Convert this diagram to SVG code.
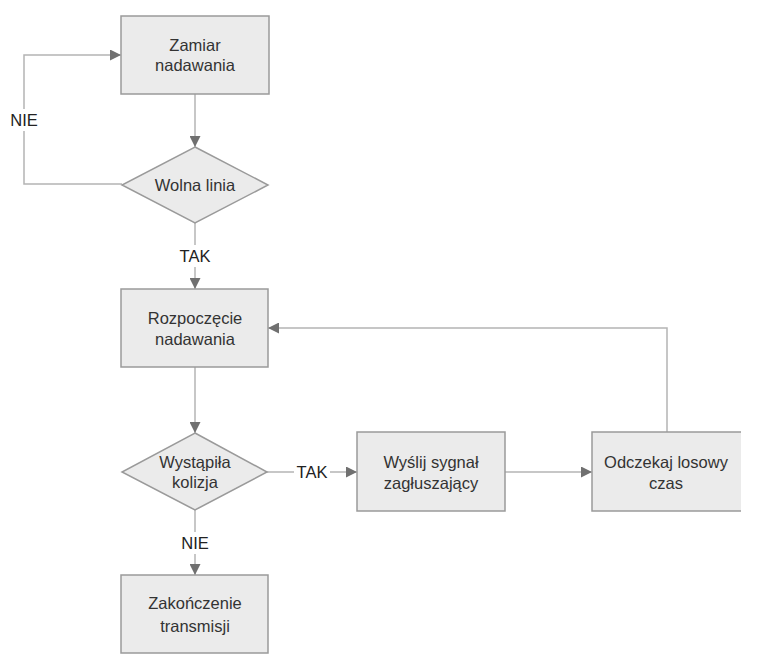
<svg xmlns="http://www.w3.org/2000/svg" width="760" height="668" viewBox="0 0 760 668">
<defs>
<style>
.box{fill:#ebebeb;stroke:#9a9a9a;stroke-width:1.5}
.edge{fill:none;stroke:#b4b4b4;stroke-width:1.5}
.t{font-family:"Liberation Sans",Arial,sans-serif;font-size:16.5px;fill:#333;text-anchor:middle}
.lbl{font-family:"Liberation Sans",Arial,sans-serif;font-size:16.5px;fill:#222;text-anchor:middle}
</style>
<marker id="arr" viewBox="0 0 10 10" refX="10" refY="5" markerWidth="11" markerHeight="11" markerUnits="userSpaceOnUse" orient="auto">
<path d="M0,0 L10,5 L0,10 z" fill="#707070"/>
</marker>
</defs>
<rect width="760" height="668" fill="#fff"/>
<g id="connectors">
<path class="edge" d="M195,94 V147" marker-end="url(#arr)"/>
<path class="edge" d="M122,184 H24 V55 H121" marker-end="url(#arr)"/>
<path class="edge" d="M195,223 V289" marker-end="url(#arr)"/>
<path class="edge" d="M195,367 V433" marker-end="url(#arr)"/>
<path class="edge" d="M267,472 H357" marker-end="url(#arr)"/>
<path class="edge" d="M505,472 H592" marker-end="url(#arr)"/>
<path class="edge" d="M667,432 V328 H268" marker-end="url(#arr)"/>
<path class="edge" d="M195,510 V575" marker-end="url(#arr)"/>
<rect x="8" y="109" width="32" height="22" fill="#fff"/>
<text class="lbl" x="24" y="126">NIE</text>
<rect x="178" y="245" width="34" height="22" fill="#fff"/>
<text class="lbl" x="195" y="262">TAK</text>
<rect x="294" y="461" width="36" height="22" fill="#fff"/>
<text class="lbl" x="312" y="478">TAK</text>
<rect x="180" y="532" width="30" height="22" fill="#fff"/>
<text class="lbl" x="195" y="549">NIE</text>
</g>
<g id="n1">
<rect class="box" x="121" y="16" width="148" height="78"/>
<text class="t" x="195" y="51">Zamiar</text>
<text class="t" x="195" y="71">nadawania</text>
</g>
<g id="n2">
<polygon class="box" points="195,147 268,185 195,223 122,185"/>
<text class="t" x="195" y="191">Wolna linia</text>
</g>
<g id="n3">
<rect class="box" x="121" y="289" width="147" height="78"/>
<text class="t" x="195" y="324">Rozpoczęcie</text>
<text class="t" x="195" y="345">nadawania</text>
</g>
<g id="n4">
<polygon class="box" points="195,433 267,472 195,510 122,472"/>
<text class="t" x="195" y="468">Wystąpiła</text>
<text class="t" x="195" y="488">kolizja</text>
</g>
<g id="n5">
<rect class="box" x="357" y="432" width="148" height="79"/>
<text class="t" x="431" y="468">Wyślij sygnał</text>
<text class="t" x="431" y="489">zagłuszający</text>
</g>
<g id="n6">
<rect x="592" y="432" width="149" height="79" fill="#ebebeb"/>
<path d="M741,432 H592 V511 H741" fill="none" stroke="#9a9a9a" stroke-width="1.5"/>
<text class="t" x="666" y="468">Odczekaj losowy</text>
<text class="t" x="666" y="489">czas</text>
</g>
<g id="n7">
<rect class="box" x="121" y="575" width="147" height="78"/>
<text class="t" x="195" y="609">Zakończenie</text>
<text class="t" x="195" y="632">transmisji</text>
</g>
</svg>
